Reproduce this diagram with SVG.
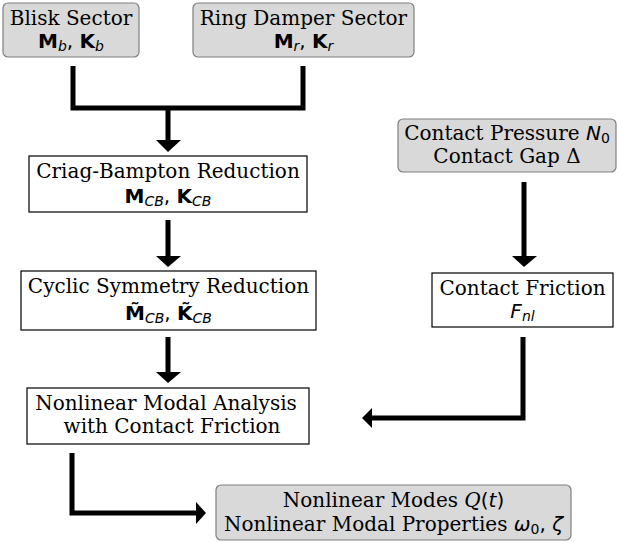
<svg xmlns="http://www.w3.org/2000/svg" width="617" height="542" viewBox="0 0 617 542">
<style>
.g{fill:#d9d9d9;stroke:#7f7f7f;stroke-width:1.2}
.w{fill:#fff;stroke:#000;stroke-width:1.2}
.t{font-family:"DejaVu Serif",serif;font-size:20px;fill:#000;text-anchor:middle}
.m{font-family:"DejaVu Sans",sans-serif;font-size:20px}
.b{font-weight:bold;font-family:"DejaVu Sans",sans-serif}
.i{font-style:italic;font-family:"DejaVu Sans",sans-serif}
.s{font-size:14px}
.c{fill:none;stroke:#000;stroke-width:5}
.h{fill:#000}
</style>
<rect width="617" height="542" fill="#fff"/>
<g id="connectors">
<polyline class="c" points="73,66 73,108 303,108 303,66"/>
<line class="c" x1="168" y1="106" x2="168" y2="142"/>
<polygon class="h" points="156,140 181,140 168,152"/>
<line class="c" x1="168" y1="220" x2="168" y2="258"/>
<polygon class="h" points="156,256 181,256 168,267"/>
<line class="c" x1="168" y1="337" x2="168" y2="374"/>
<polygon class="h" points="156,372 181,372 168,383"/>
<line class="c" x1="524" y1="182" x2="524" y2="258"/>
<polygon class="h" points="512,256 537,256 524,267"/>
<polyline class="c" points="523,337 523,418 370,418"/>
<polygon class="h" points="372,408 372,428 362,418"/>
<polyline class="c" points="72,453 72,513 197,513"/>
<polygon class="h" points="196,502 196,524 206,513"/>
</g>
<g id="blisk">
<rect class="g" x="3" y="3" width="136" height="54" rx="5"/>
<text class="t" x="71" y="25">Blisk Sector</text>
<text class="t" x="71" y="48"><tspan class="b">M</tspan><tspan class="i s" dy="3">b</tspan><tspan class="m" dy="-3">, </tspan><tspan class="b">K</tspan><tspan class="i s" dy="3">b</tspan></text>
</g>
<g id="ring">
<rect class="g" x="193" y="3" width="221" height="54" rx="5"/>
<text class="t" x="303.5" y="25">Ring Damper Sector</text>
<text class="t" x="303.5" y="48"><tspan class="b">M</tspan><tspan class="i s" dy="3">r</tspan><tspan class="m" dy="-3">, </tspan><tspan class="b">K</tspan><tspan class="i s" dy="3">r</tspan></text>
</g>
<g id="cb">
<rect class="w" x="29" y="156" width="278" height="56"/>
<text class="t" x="168" y="178">Criag-Bampton Reduction</text>
<text class="t" x="168" y="203"><tspan class="b">M</tspan><tspan class="i s" dy="3">CB</tspan><tspan class="m" dy="-3">, </tspan><tspan class="b">K</tspan><tspan class="i s" dy="3">CB</tspan></text>
</g>
<g id="cyclic">
<rect class="w" x="21" y="271" width="295" height="59"/>
<text class="t" x="168.5" y="293">Cyclic Symmetry Reduction</text>
<text class="t" x="168.5" y="320"><tspan class="b">M̃</tspan><tspan class="i s" dy="3">CB</tspan><tspan class="m" dy="-3">, </tspan><tspan class="b">K̃</tspan><tspan class="i s" dy="3">CB</tspan></text>
</g>
<g id="pressure">
<rect class="g" x="398" y="119" width="218" height="53" rx="5"/>
<text class="t" x="507" y="140">Contact Pressure <tspan class="i">N</tspan><tspan class="m s" dy="3">0</tspan></text>
<text class="t" x="507" y="163">Contact Gap Δ</text>
</g>
<g id="friction">
<rect class="w" x="432" y="273" width="181" height="54"/>
<text class="t" x="522.5" y="295">Contact Friction</text>
<text class="t" x="522.5" y="318"><tspan class="i">F</tspan><tspan class="i s" dy="3">nl</tspan></text>
</g>
<g id="nma">
<rect class="w" x="27" y="388" width="282" height="56"/>
<text class="t" x="166" y="410">Nonlinear Modal Analysis</text>
<text class="t" x="172" y="433">with Contact Friction</text>
</g>
<g id="modes">
<rect class="g" x="216" y="485" width="355" height="55" rx="5"/>
<text class="t" x="393.5" y="507">Nonlinear Modes <tspan font-style="italic">Q</tspan><tspan class="m">(</tspan><tspan class="i">t</tspan><tspan class="m">)</tspan></text>
<text class="t" x="393.5" y="531">Nonlinear Modal Properties <tspan class="i">ω</tspan><tspan class="m s" dy="3">0</tspan><tspan class="m" dy="-3">, </tspan><tspan class="i">ζ</tspan></text>
</g>
</svg>
